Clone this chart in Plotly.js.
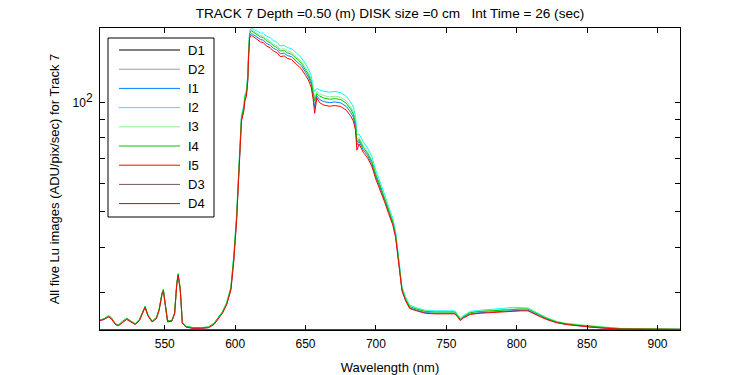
<!DOCTYPE html>
<html>
<head>
<meta charset="utf-8">
<script src="https://cdn.plot.ly/plotly-3.0.1.min.js"></script>
<style>
html,body{margin:0;padding:0;background:#fff;}
#chart{width:750px;height:375px;}
</style>
</head>
<body>
<div id="chart"></div>
<script>
// Wavelength grid (nm) for the five Lu image spectra
const wavelength = [504,507,510,512,515,517,520,523,526,529,532,534,536,538,541,544,546,548,549,550.5,552,555,557,558.5,559.5,561,562.5,565,570,576,581,585,588,591,594,597,599,601,602.5,603.5,604.5,606,607,608,609,609.5,610.3,611.5,613,615,618,620,622,625,627,630,632,635,637,640,642,645,647,650,652,654,655.5,656.5,658,660,663,667,671,675,679,682,684,685.5,686.5,688,691,694,697,700,703,706,709,712,714,715.5,717,718.5,721,724,729,735,742,750,756,758,760,762,767,774,782,790,797,803,808,812,816,821,828,835,843,852,864,874,890,905,916];

const I1 = [25.1,25.3,25.7,25.4,24.5,24.3,24.8,25.3,24.9,24.5,25.1,26.2,27.3,25.9,24.9,25.4,26.8,29.6,30.3,27.5,24.9,25.0,26.2,31.5,33.5,30.5,24.7,24.1,23.9,23.9,24.0,24.5,25.4,26.4,27.9,30.7,36.9,47.5,62.6,75.8,89.9,94.9,102.5,105.0,116.2,133.3,152.8,155.3,153.8,152.0,149.3,148.8,145.9,143.9,141.4,139.5,136.4,136.9,134.9,133.9,131.9,128.9,126.4,121.3,117.8,112.8,104.3,97.0,104.5,102.0,100.7,100.0,100.5,99.9,97.6,94.2,91.1,86.0,76.5,78.3,74.2,71.6,68.0,62.4,58.3,54.2,50.1,46.5,43.0,38.4,33.8,30.5,28.6,27.2,26.8,26.4,26.3,26.3,26.3,25.8,25.2,25.6,26.2,26.4,26.5,26.6,26.8,26.8,26.8,26.3,25.9,25.4,24.8,24.5,24.3,24.1,23.9,23.8,23.75,23.74,23.72];

const I2 = [25.2,25.4,25.8,25.5,24.6,24.4,24.9,25.4,25.0,24.6,25.2,26.3,27.4,26.0,25.0,25.5,26.9,29.7,30.4,27.6,25.0,25.1,26.3,31.6,33.6,30.6,24.8,24.2,24.0,24.0,24.1,24.6,25.5,26.6,28.2,31.1,38.0,48.9,64.5,78.0,92.6,97.8,105.6,108.2,119.6,137.3,157.8,160.4,159.5,158.0,155.6,155.5,152.8,150.9,148.4,146.5,143.4,143.9,141.9,140.9,138.8,135.7,133.1,127.8,124.1,118.9,110.0,107.5,109.5,108.5,107.5,107.0,107.4,106.6,104.0,100.5,97.2,91.6,81.5,82.0,78.0,75.0,71.2,65.0,60.6,56.2,51.8,48.0,44.2,39.4,34.6,31.2,29.2,27.7,27.2,26.8,26.7,26.7,26.7,26.1,25.5,25.9,26.6,26.8,26.9,27.1,27.3,27.3,27.2,26.7,26.2,25.6,25.0,24.6,24.4,24.2,24.0,23.85,23.8,23.78,23.76];

const I3 = [25.2,25.4,25.8,25.5,24.6,24.4,24.9,25.4,25.0,24.6,25.2,26.3,27.4,26.0,25.0,25.5,26.9,29.7,30.4,27.6,25.0,25.1,26.3,31.6,33.6,30.6,24.8,24.2,24.0,24.0,24.1,24.6,25.5,26.5,28.1,31.0,37.6,48.4,63.9,77.3,91.7,96.8,104.5,107.1,118.5,136.0,156.4,159.0,157.8,156.0,153.2,152.8,149.9,147.9,145.4,143.4,140.3,140.8,138.8,137.8,135.7,132.6,130.0,124.8,121.1,116.0,107.2,103.5,107.5,105.8,104.6,103.8,104.2,103.6,101.1,97.6,94.4,89.1,79.0,80.2,76.2,73.4,69.7,63.8,59.5,55.2,51.0,47.3,43.6,38.9,34.2,30.9,29.0,27.5,27.1,26.7,26.6,26.6,26.6,26.0,25.4,25.8,26.5,26.7,26.8,27.0,27.1,27.1,27.1,26.6,26.1,25.6,25.0,24.7,24.5,24.3,24.1,23.9,23.85,23.8,23.78];

const I4 = [25.2,25.4,25.9,25.6,24.6,24.4,25.0,25.5,25.0,24.6,25.3,26.4,27.5,26.1,25.0,25.6,27.0,29.9,30.6,27.7,25.1,25.1,26.4,31.8,33.8,30.8,24.8,24.2,24.0,24.0,24.1,24.7,25.5,26.5,28.0,30.9,37.4,48.2,63.6,76.9,91.2,96.4,104.0,106.6,117.9,135.3,155.2,157.8,156.3,154.5,151.6,151.2,148.3,146.2,143.7,141.7,138.7,139.2,137.2,136.1,134.1,131.0,128.4,123.3,119.7,114.5,105.8,101.0,106.0,104.3,103.0,102.2,102.6,102.0,99.6,96.1,93.0,87.8,77.8,79.3,75.3,72.6,69.0,63.2,59.0,54.8,50.6,46.9,43.3,38.7,34.0,30.7,28.8,27.4,27.0,26.6,26.5,26.5,26.5,25.9,25.3,25.7,26.4,26.6,26.7,26.8,27.0,27.0,27.0,26.5,26.0,25.5,24.9,24.6,24.4,24.2,24.0,23.85,23.8,23.78,23.76];

const I5 = [25.1,25.3,25.7,25.4,24.5,24.3,24.8,25.3,24.9,24.5,25.1,26.2,27.3,25.9,24.9,25.4,26.8,29.6,30.3,27.5,24.9,25.0,26.2,31.5,33.5,30.5,24.7,24.1,23.9,23.9,24.0,24.5,25.3,26.3,27.8,30.5,36.5,47,62,75,89,94,101.5,104,115,132,151,153.5,152,150,147,146.5,143.5,141.5,139,137,134,134.5,132.5,131.5,129.5,126.5,124,119,115.5,110.5,102,93.5,103,100,98.5,97.8,98.2,97.6,95.3,92,89,84,74,77,73,70.5,67,61.5,57.5,53.5,49.5,46,42.5,38,33.5,30.3,28.5,27.1,26.7,26.3,26.2,26.2,26.2,25.7,25.1,25.5,26.1,26.3,26.4,26.5,26.7,26.7,26.7,26.2,25.8,25.3,24.8,24.5,24.3,24.1,23.9,23.8,23.78,23.76,23.75];

// Dark images: flat at the bottom of the axis
const darkWavelength = [504, 916];
const D1 = [23.7, 23.7];
const D2 = [23.7, 23.7];
const D3 = [23.7, 23.7];
const D4 = [23.7, 23.7];

const seriesNames = ["D1","D2","I1","I2","I3","I4","I5","D3","D4"];
const seriesColors = ["#000000","#999999","#0080ff","#00ffff","#90ee90","#00c800","#ff0000","#7d5555","#802828"];

const xTicks = [550,600,650,700,750,800,850,900];
const yTickVals = [30,40,50,60,70,80,90,100];
const yTickText = ["","","","","","","","10<sup><span style=\"font-size:12px\">2</span></sup>"];

const titleText = "TRACK 7 Depth =0.50 (m) DISK size =0 cm   Int Time = 26 (sec)";
const xTitle = "Wavelength (nm)";
const yTitle = "All five Lu images (ADU/pix/sec) for Track 7";

const seriesData = {
  D1: [darkWavelength, D1], D2: [darkWavelength, D2],
  I1: [wavelength, I1], I2: [wavelength, I2], I3: [wavelength, I3],
  I4: [wavelength, I4], I5: [wavelength, I5],
  D3: [darkWavelength, D3], D4: [darkWavelength, D4]
};

const traces = seriesNames.map((n, i) => ({
  type: "scatter", mode: "lines", name: n,
  x: seriesData[n][0], y: seriesData[n][1],
  line: {color: seriesColors[i], width: 1},
  hoverinfo: "skip", showlegend: false
}));

const FONT = "Liberation Sans, Arial, Helvetica, sans-serif";

// Plot area in pixels: left 100, right 680, top 28, bottom 330
const PL = 100, PR = 680, PT = 28, PB = 330;
const px = X => (X - PL) / (PR - PL);
const py = Y => (PB - Y) / (PB - PT);

// Boxed legend (MATLAB style)
const LEG = {left: 108, right: 214, top: 38, bottom: 217, lineX0: 119, lineX1: 180, textX: 186, row0: 50, rowStep: 19.2};
const shapes = [{
  type: "rect", xref: "paper", yref: "paper", layer: "above",
  x0: px(LEG.left), x1: px(LEG.right), y0: py(LEG.bottom), y1: py(LEG.top),
  line: {color: "#000", width: 1}, fillcolor: "#ffffff"
}];
const annotations = [];
seriesNames.forEach((n, i) => {
  const Y = LEG.row0 + LEG.rowStep * i;
  shapes.push({type: "line", xref: "paper", yref: "paper", layer: "above",
    x0: px(LEG.lineX0), x1: px(LEG.lineX1), y0: py(Y), y1: py(Y),
    line: {color: seriesColors[i], width: 1}});
  annotations.push({xref: "paper", yref: "paper", x: px(LEG.textX), y: py(Y),
    xanchor: "left", yanchor: "middle", showarrow: false, text: n,
    font: {family: FONT, size: 13, color: "#000"}});
});

const layout = {
  width: 750, height: 375,
  margin: {l: PL, r: 750 - PR, t: PT, b: 375 - PB},
  paper_bgcolor: "#ffffff", plot_bgcolor: "#ffffff",
  font: {family: FONT, size: 12, color: "#000"},
  title: {text: titleText, font: {family: FONT, size: 13.6, color: "#000"},
          xref: "paper", x: 0.5, xanchor: "center",
          yref: "container", y: 0.965, yanchor: "middle"},
  showlegend: false,
  shapes: shapes,
  annotations: annotations,
  xaxis: {range: [504, 916], tickmode: "array", tickvals: xTicks,
          ticks: "inside", ticklen: 5, tickcolor: "#000", tickwidth: 1,
          showline: true, linecolor: "#000", linewidth: 1, mirror: "ticks",
          showgrid: false, zeroline: false, ticklabelstandoff: 3,
          tickfont: {family: FONT, size: 12, color: "#000"},
          title: {text: xTitle, font: {family: FONT, size: 13, color: "#000"}, standoff: 12}},
  yaxis: {type: "log", range: [1.3738, 2.2058], tickmode: "array",
          tickvals: yTickVals, ticktext: yTickText,
          ticks: "inside", ticklen: 5, tickcolor: "#000", tickwidth: 1,
          showline: true, linecolor: "#000", linewidth: 1, mirror: "ticks",
          showgrid: false, zeroline: false, ticklabelstandoff: 4,
          tickfont: {family: FONT, size: 12, color: "#000"},
          title: {text: yTitle, font: {family: FONT, size: 13, color: "#000"}, standoff: 10}}
};

Plotly.newPlot("chart", traces, layout, {displayModeBar: false, staticPlot: true});
</script>
</body>
</html>
